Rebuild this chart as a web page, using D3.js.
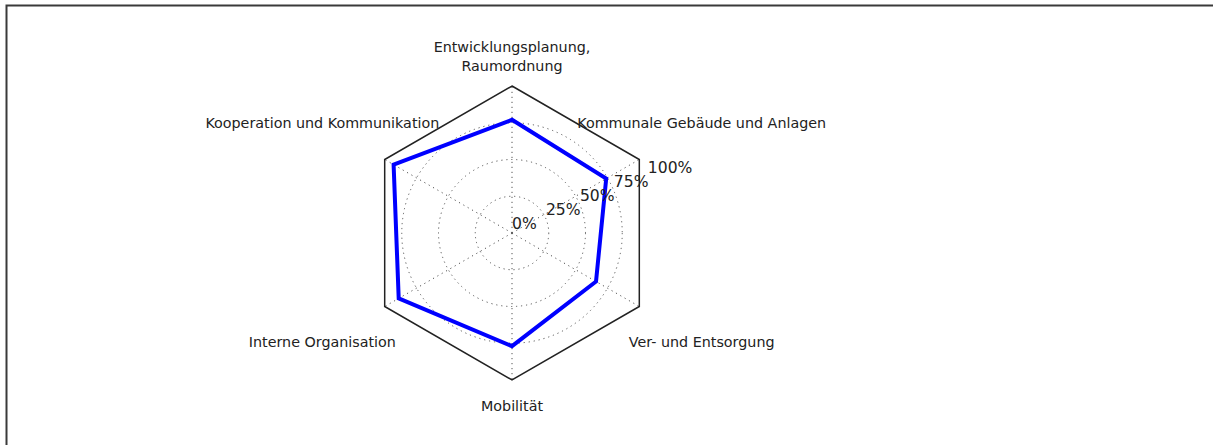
<!DOCTYPE html>
<html>
<head>
<meta charset="utf-8">
<script src="https://cdn.jsdelivr.net/npm/d3@7"></script>
<style>
  body { margin: 0; background: #fff; }
  text { font-family: "DejaVu Sans", sans-serif; fill: #222; }
</style>
</head>
<body>
<div id="radar"></div>
<script>
// Categories, clockwise from the top
const categories = [
    ["Entwicklungsplanung,", "Raumordnung"],
    ["Kommunale Gebäude und Anlagen"],
    ["Ver- und Entsorgung"],
    ["Mobilität"],
    ["Interne Organisation"],
    ["Kooperation und Kommunikation"]
];
const values = [0.77, 0.74, 0.66, 0.77, 0.89, 0.93];
const gridLevels = [0.25, 0.5, 0.75];
const tickValues = [0, 0.25, 0.5, 0.75, 1];
const tickLabels = ["0%", "25%", "50%", "75%", "100%"];

// SVG Setup
let svgWidth = 1213;
let svgHeight = 445;
let center = {x: 512, y: 233};
let radius = 147;

let svg = d3.select("#radar")
    .append("svg")
    .attr("width", svgWidth)
    .attr("height", svgHeight);

// page frame (only top and left edges are inside the view)
svg.append("rect")
    .attr("x", 6.5)
    .attr("y", 5.5)
    .attr("width", svgWidth + 20)
    .attr("height", svgHeight + 20)
    .attr("fill", "none")
    .attr("stroke", "#3a3a3a")
    .attr("stroke-width", 2);

let chartGroup = svg.append("g")
    .attr("transform", `translate(${center.x},${center.y})`);

let rScale = d3.scaleLinear().domain([0, 1]).range([0, radius]);
let angle = d3.scaleLinear().domain([0, categories.length]).range([0, 2 * Math.PI]);

// point helper: angle measured clockwise from the top
let pt = (a, r) => [r * Math.sin(a), -r * Math.cos(a)];

// circular dotted gridlines
chartGroup.selectAll(".grid")
    .data(gridLevels)
    .enter()
    .append("circle")
    .attr("r", d => rScale(d))
    .attr("fill", "none")
    .attr("stroke", "#555")
    .attr("stroke-width", 1)
    .attr("stroke-dasharray", "1.2,3.8");

// radial spokes
chartGroup.selectAll(".spoke")
    .data(categories)
    .enter()
    .append("line")
    .attr("x1", 0)
    .attr("y1", 0)
    .attr("x2", (d, i) => pt(angle(i), rScale(1))[0])
    .attr("y2", (d, i) => pt(angle(i), rScale(1))[1])
    .attr("stroke", "#555")
    .attr("stroke-width", 1)
    .attr("stroke-dasharray", "1.2,3.8");

// hexagon frame
let radial = d3.lineRadial()
    .angle((d, i) => angle(i))
    .radius(d => rScale(d))
    .curve(d3.curveLinearClosed);

chartGroup.append("path")
    .attr("d", radial(categories.map(() => 1)))
    .attr("fill", "none")
    .attr("stroke", "#222")
    .attr("stroke-width", 1.5);

// data polygon
chartGroup.append("path")
    .attr("d", radial(values))
    .attr("fill", "none")
    .attr("stroke", "#0000ff")
    .attr("stroke-width", 4)
    .attr("stroke-linejoin", "miter");

// radial tick labels, along 22.5 degrees above east
let tickAngle = Math.PI / 2 - Math.PI / 8;
chartGroup.selectAll(".rtick")
    .data(tickValues)
    .enter()
    .append("text")
    .attr("x", d => pt(tickAngle, rScale(d))[0])
    .attr("y", d => pt(tickAngle, rScale(d))[1] - 4)
    .attr("font-size", "15.6px")
    .attr("text-anchor", "start")
    .text((d, i) => tickLabels[i]);

// category labels
let labels = chartGroup.selectAll(".cat")
    .data(categories)
    .enter()
    .append("text")
    .attr("font-size", "14.3px")
    .attr("text-anchor", "middle")
    .each(function(d, i) {
        let a = angle(i);
        let vertical = Math.abs(Math.sin(a)) < 0.01;
        let p;
        if (vertical && Math.cos(a) > 0) {
            // top label, bottom aligned
            p = pt(a, rScale(1) + 15);
            p[1] -= (d.length - 1) * 19;
        } else if (vertical) {
            // bottom label, top aligned
            p = pt(a, rScale(1) + 31);
        } else {
            p = pt(a, rScale(1.49));
            p[1] += 4;
        }
        d3.select(this).selectAll("tspan")
            .data(d)
            .enter()
            .append("tspan")
            .attr("x", p[0])
            .attr("y", (t, j) => p[1] + j * 19)
            .text(t => t);
    });
</script>
</body>
</html>
